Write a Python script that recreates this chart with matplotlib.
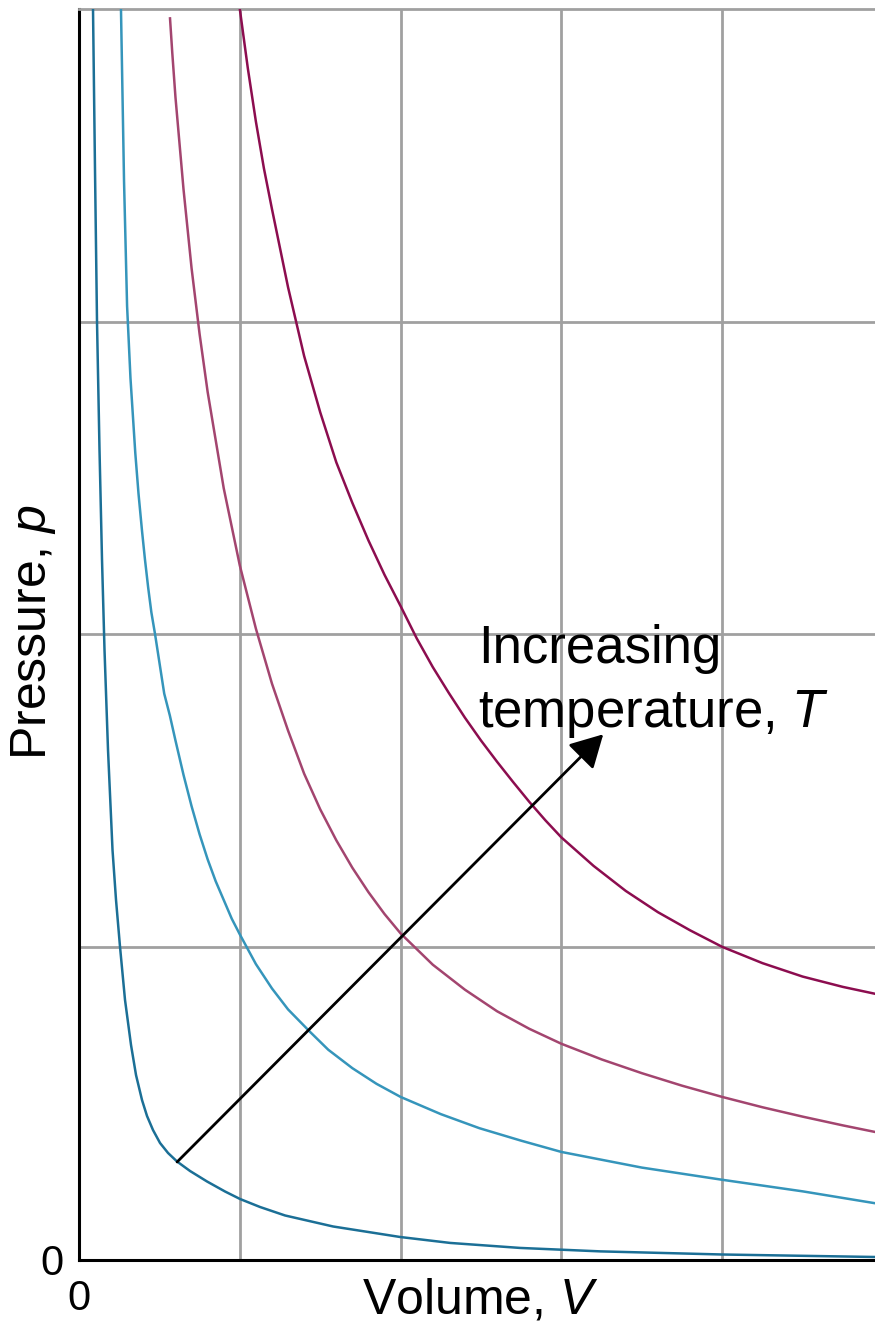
import numpy as np
import matplotlib
matplotlib.use("Agg")
import matplotlib.pyplot as plt

plt.rcParams['font.family'] = ['Liberation Sans', 'DejaVu Sans']
plt.rcParams['mathtext.fontset'] = 'custom'
plt.rcParams['mathtext.rm'] = 'Liberation Sans'
plt.rcParams['mathtext.it'] = 'Liberation Sans:italic'

# isotherms (volume V, pressure p), lowest T first
v1 = [0.0871, 0.0995, 0.112, 0.1275, 0.1431, 0.1586, 0.1804, 0.2084, 0.2302, 0.2551,
      0.2862, 0.3235, 0.3546, 0.3919, 0.4230, 0.4603, 0.5039, 0.5537, 0.6096, 0.6905,
      0.7963, 0.9082, 1.0016, 1.126, 1.2815, 1.5801, 1.9969, 2.308, 2.743, 3.241, 4.0, 4.952]
p1 = [4.0, 3.485, 2.999, 2.590, 2.238, 1.950, 1.630, 1.310, 1.150, 1.000,
      0.830, 0.686, 0.590, 0.510, 0.459, 0.414, 0.3727, 0.3407, 0.3135, 0.2831,
      0.2495, 0.2175, 0.1935, 0.1679, 0.1408, 0.1056, 0.072, 0.053, 0.037, 0.026, 0.016, 0.008]

v2 = [0.261, 0.28, 0.299, 0.32, 0.35, 0.37, 0.392, 0.41, 0.43, 0.45, 0.473, 0.5, 0.53,
      0.565, 0.6, 0.65, 0.7, 0.75, 0.8, 0.85, 0.9, 0.95, 1.0, 1.1, 1.2, 1.3, 1.437,
      1.55, 1.7, 1.85, 2.0, 2.25, 2.49, 2.75, 3.0, 3.5, 4.0, 4.5, 4.95]
p2 = [4.0, 3.45, 3.05, 2.82, 2.58, 2.45, 2.33, 2.24, 2.15, 2.07, 2.0, 1.91, 1.81,
      1.74, 1.66, 1.55, 1.45, 1.36, 1.28, 1.21, 1.15, 1.09, 1.04, 0.945, 0.867, 0.80, 0.728,
      0.671, 0.612, 0.562, 0.52, 0.465, 0.42, 0.38, 0.344, 0.294, 0.255, 0.218, 0.18]

v3 = [0.566, 0.58, 0.6, 0.65, 0.7, 0.75, 0.8, 0.9, 1.0, 1.1, 1.2, 1.3, 1.4, 1.5, 1.6, 1.7,
      1.8, 1.9, 2.0, 2.2, 2.4, 2.6, 2.8, 3.0, 3.25, 3.5, 3.75, 4.0, 4.25, 4.5, 4.75, 4.95]
p3 = [3.97, 3.86, 3.717, 3.423, 3.171, 2.96, 2.775, 2.467, 2.22, 2.018, 1.842, 1.692, 1.554,
      1.44, 1.341, 1.253, 1.175, 1.105, 1.043, 0.943, 0.863, 0.794, 0.738, 0.69, 0.64,
      0.596, 0.556, 0.52, 0.487, 0.457, 0.429, 0.408]

v4 = [1.0, 1.05, 1.1, 1.15, 1.2, 1.3, 1.4, 1.5, 1.6, 1.7, 1.8, 1.9, 2.0, 2.1, 2.2, 2.3,
      2.4, 2.5, 2.6, 2.7, 2.8, 2.9, 3.0, 3.2, 3.4, 3.6, 3.8, 4.0, 4.25, 4.5, 4.75, 4.95]
p4 = [4.0, 3.81, 3.64, 3.49, 3.36, 3.11, 2.89, 2.71, 2.55, 2.42, 2.30, 2.19, 2.09, 1.987,
      1.895, 1.812, 1.733, 1.660, 1.592, 1.527, 1.464, 1.405, 1.350, 1.259, 1.179, 1.111,
      1.053, 1.0, 0.948, 0.905, 0.872, 0.850]

curves = [(v1, p1, '#1b6f96'), (v2, p2, '#3595bb'), (v3, p3, '#a3456f'), (v4, p4, '#8c0d4f')]

arrow_start = (0.610, 0.312)
arrow_end = (3.26, 1.68)

fig = plt.figure(figsize=(8.75, 13.23), dpi=100)
ax = fig.add_axes([79 / 875, (1323 - 1259.5) / 1323, 796 / 875, 1250.5 / 1323])

for v, p, c in curves:
    ax.plot(v, p, color=c, lw=1.8, zorder=3, solid_joinstyle='round')

ax.set_xlim(0, 4.95)
ax.set_ylim(0, 4)

# grid on minor ticks, only 0 is labelled
ax.set_xticks([1, 2, 3, 4], minor=True)
ax.set_yticks([1, 2, 3], minor=True)
ax.grid(which='minor', color='#a0a0a0', lw=2.0)
ax.set_xticks([0])
ax.set_yticks([0])
ax.tick_params(which='both', length=0, labelsize=30)
ax.tick_params(axis='y', pad=11)
ax.tick_params(axis='x', pad=14)

for s in ['left', 'bottom']:
    ax.spines[s].set_linewidth(2.2)
    ax.spines[s].set_color('black')
ax.spines['top'].set_color('#a0a0a0')
ax.spines['top'].set_linewidth(2.0)
ax.spines['right'].set_visible(False)

ax.set_xlabel('Volume, $V$', fontsize=36)
ax.xaxis.set_label_coords(0.504, -0.014)
ax.set_ylabel('Pressure, $p$', fontsize=36)
ax.yaxis.set_label_coords(-0.026, 0.502)

ax.annotate('', xy=arrow_end, xytext=arrow_start,
            arrowprops=dict(arrowstyle='-|>,head_length=0.4,head_width=0.22',
                            color='black', lw=2.0, mutation_scale=50,
                            shrinkA=0, shrinkB=0), zorder=4)
ax.text(2.482, 1.908, 'Increasing', fontsize=38, va='baseline', ha='left')
ax.text(2.482, 1.703, 'temperature, $T$', fontsize=38, va='baseline', ha='left')

fig.savefig('out.png', dpi=100)
